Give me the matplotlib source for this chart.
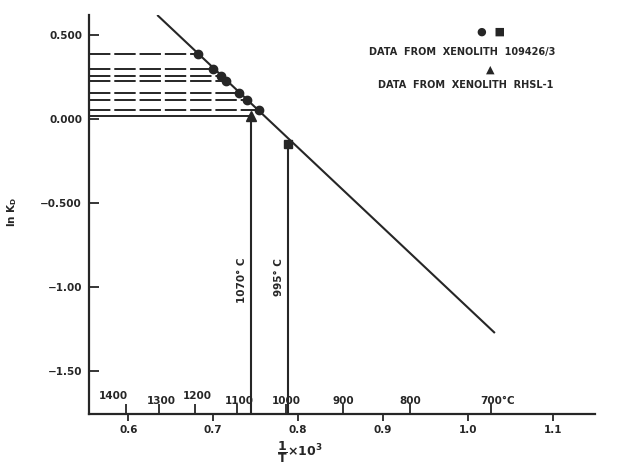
import numpy as np
import matplotlib
matplotlib.use('Agg')
import matplotlib.pyplot as plt

# --- values ---
# x = 1/T x 10^3 (T in K), y = ln KD
circle_x = [0.6825, 0.6995, 0.7089, 0.7152, 0.7308, 0.7403, 0.7541]
circle_y = [0.388, 0.299, 0.259, 0.229, 0.160, 0.114, 0.054]
square_y = [-0.148]       # sits on the 995 C line
triangle_y = [0.018]      # sits on the 1070 C line
line_x = [0.634, 1.032]
line_y = [0.622, -1.271]

vline_temps = [1070, 995]
vline_labels = ['1070° C', '995° C']
temp_ticks = [1400, 1300, 1200, 1100, 1000, 900, 800, 700]
temp_labels = ['1400', '1300', '1200', '1100', '1000', '900', '800', '700°C']
x_ticks = [0.6, 0.7, 0.8, 0.9, 1.0, 1.1]
x_ticklabels = ['0.6', '0.7', '0.8', '0.9', '1.0', '1.1']
y_ticks = [0.5, 0.0, -0.5, -1.0, -1.5]
y_ticklabels = ['0.500', '0.000', '\u22120.500', '\u22121.00', '\u22121.50']

legend_1 = 'DATA  FROM  XENOLITH  109426/3'
legend_2 = 'DATA  FROM  XENOLITH  RHSL-1'


def inv_t(temp_c):
    return 1000.0 / (np.asarray(temp_c, dtype=float) + 273.15)


INK = '#262626'
plt.rcParams['font.family'] = ['DejaVu Sans']
plt.rcParams['font.size'] = 7.5
plt.rcParams['font.weight'] = 'bold'

fig = plt.figure(figsize=(6.19, 4.68), dpi=100)
ax = fig.add_axes([89 / 619, 54 / 468, 506 / 619, 399 / 468])
ax.set_xlim(0.5536, 1.15)
ax.set_ylim(-1.753, 0.622)

for side in ['top', 'right']:
    ax.spines[side].set_visible(False)
for side in ['left', 'bottom']:
    ax.spines[side].set_linewidth(1.6)
    ax.spines[side].set_color(INK)

# regression line
ax.plot(line_x, line_y, color=INK, lw=1.5, solid_capstyle='butt')

# dashed lines from the axis to each circle
xmin = ax.get_xlim()[0]
ax.hlines(circle_y, xmin, circle_x, colors=INK, lw=1.4, linestyles=(0, (11, 2)))

# solid lines to the triangle and the two temperature lines
vx = inv_t(vline_temps)
ax.hlines(triangle_y, xmin, vx[0], colors=INK, lw=1.4)
ax.vlines(vx[0], ax.get_ylim()[0], triangle_y[0], colors=INK, lw=1.5)
ax.vlines(vx[1], ax.get_ylim()[0], square_y[0], colors=INK, lw=1.5)

ax.plot(circle_x, circle_y, 'o', color=INK, ms=6, zorder=5)
ax.plot([vx[1]], square_y, 's', color=INK, ms=6, zorder=5)
ax.plot([vx[0]], triangle_y, '^', color=INK, ms=6.5, zorder=5)

for x, lab in zip(vx, vline_labels):
    ax.annotate(lab, xy=(x, -0.824), xytext=(-3, 0), textcoords='offset points',
                rotation=90, ha='right', va='top', color=INK)

# lower scale: 1/T
ax.set_xticks(x_ticks)
ax.set_xticklabels(x_ticklabels)
ax.tick_params(axis='x', which='major', direction='out', length=5, width=1.3,
               pad=3, colors=INK, labelsize=7.5)

# upper scale on the same axis: temperatures in C
ax.set_xticks(inv_t(temp_ticks), minor=True)
ax.tick_params(axis='x', which='minor', direction='in', length=7, width=1.3, colors=INK)
dx_px = [-13, 3, 2, 2, 1, 1, 0, 6]
dy_px = [18, 13, 18, 13, 13, 13, 13, 13]
for x, lab, dx, dy in zip(inv_t(temp_ticks), temp_labels, dx_px, dy_px):
    ax.annotate(lab, xy=(x, 0), xycoords=('data', 'axes fraction'),
                xytext=(dx * 0.72, dy * 0.72), textcoords='offset points',
                ha='center', va='center', color=INK)

ax.set_yticks(y_ticks)
ax.set_yticklabels(y_ticklabels)
ax.tick_params(axis='y', direction='in', length=7, width=1.3, pad=5,
               colors=INK, labelsize=7.5)

fig.text(300 / 619, 1 - 452 / 468,
         r'$\dfrac{\mathregular{1}}{\mathregular{T}}\mathregular{\times 10^3}$',
         ha='center', va='center', color=INK, fontsize=9)
fig.text(12 / 619, 1 - 212 / 468, r'ln K$_\mathregular{D}$', rotation=90,
         ha='center', va='center', color=INK)

# legend written as text
fig.text(491 / 619, 1 - 32 / 468, '\u25cf  \u25a0', ha='center', va='center',
         color=INK, fontsize=8)
fig.text(555 / 619, 1 - 52 / 468, legend_1, ha='right', va='center',
         color=INK, fontsize=7)
fig.text(490 / 619, 1 - 70 / 468, '\u25b2', ha='center', va='center',
         color=INK, fontsize=8)
fig.text(553 / 619, 1 - 85 / 468, legend_2, ha='right', va='center',
         color=INK, fontsize=7)

fig.savefig('out.png', dpi=100)
